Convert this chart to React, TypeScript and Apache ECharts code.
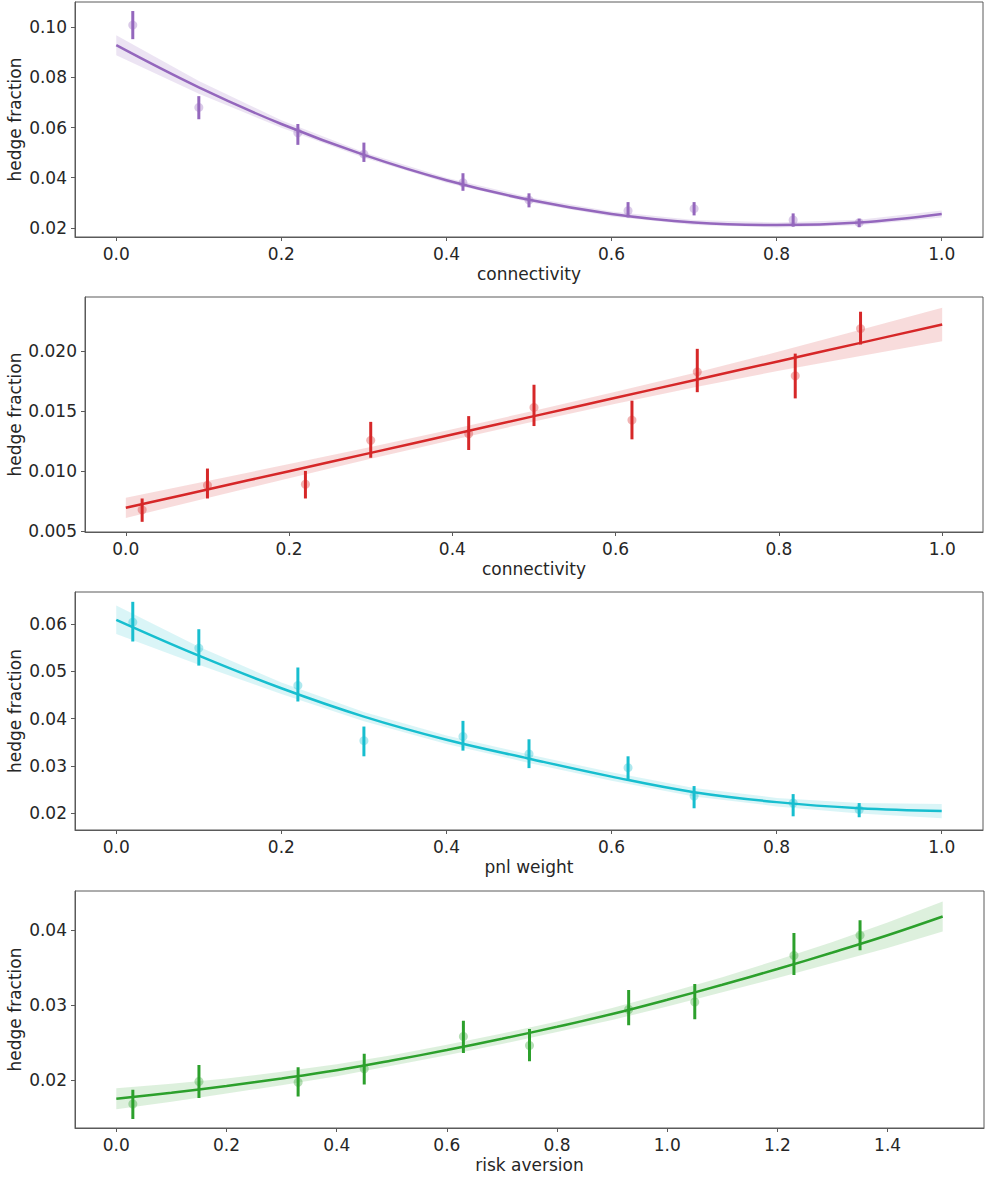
import React, { useEffect, useRef } from "react";
import * as echarts from "echarts";

// ---- data ----
const pointX1 = [0.02, 0.1, 0.22, 0.3, 0.42, 0.5, 0.62, 0.7, 0.82, 0.9];
const mean1 = [0.1008, 0.068, 0.0579, 0.0494, 0.038, 0.0311, 0.0269, 0.0277, 0.0232, 0.0221];
const lo1 = [0.0952, 0.0633, 0.0531, 0.0463, 0.0348, 0.0282, 0.0242, 0.025, 0.0205, 0.0203];
const hi1 = [0.1064, 0.0725, 0.0614, 0.054, 0.0418, 0.0338, 0.0303, 0.0303, 0.0258, 0.0237];
const fitX1 = [0, 0.1, 0.2, 0.3, 0.4, 0.5, 0.6, 0.7, 0.8, 0.9, 1.0];
const fit1 = [0.0928, 0.076, 0.0614, 0.0491, 0.039, 0.0312, 0.0256, 0.0222, 0.0212, 0.0222, 0.0256];
const band1 = [0.004, 0.0025, 0.0015, 0.0011, 0.001, 0.001, 0.001, 0.001, 0.001, 0.0011, 0.0014];

const mean2 = [0.00675, 0.0088, 0.00889, 0.01256, 0.0131, 0.01531, 0.01425, 0.01828, 0.01795, 0.02189];
const lo2 = [0.00575, 0.0077, 0.0077, 0.0111, 0.01175, 0.01375, 0.01264, 0.01658, 0.01606, 0.02056];
const hi2 = [0.0077, 0.0102, 0.01, 0.0141, 0.01458, 0.0172, 0.01587, 0.0202, 0.0198, 0.0233];
const fit2 = [0.00692, 0.00845, 0.00998, 0.01151, 0.01304, 0.01458, 0.01611, 0.01764, 0.01917, 0.0207, 0.02223];
const band2 = [0.00085, 0.0007, 0.0006, 0.0005, 0.00045, 0.00045, 0.0005, 0.0006, 0.0008, 0.0011, 0.0014];

const mean3 = [0.0604, 0.0549, 0.047, 0.0353, 0.0362, 0.0325, 0.0296, 0.0236, 0.0221, 0.0207];
const lo3 = [0.0563, 0.0512, 0.0436, 0.032, 0.0332, 0.0295, 0.0268, 0.021, 0.0193, 0.0191];
const hi3 = [0.0647, 0.0589, 0.0508, 0.0383, 0.0395, 0.0356, 0.032, 0.0257, 0.024, 0.0221];
const fit3 = [0.0609, 0.0533, 0.0464, 0.0404, 0.0355, 0.0315, 0.0277, 0.0244, 0.0223, 0.021, 0.0204];
const band3 = [0.003, 0.0019, 0.0012, 0.001, 0.0009, 0.0009, 0.0009, 0.0009, 0.0009, 0.0011, 0.0015];

const pointX4 = [0.03, 0.15, 0.33, 0.45, 0.63, 0.75, 0.93, 1.05, 1.23, 1.35];
const mean4 = [0.0168, 0.0198, 0.0197, 0.0215, 0.0258, 0.0246, 0.0294, 0.0304, 0.0366, 0.0393];
const lo4 = [0.0148, 0.0176, 0.0178, 0.0194, 0.0236, 0.0225, 0.0273, 0.0281, 0.034, 0.0373];
const hi4 = [0.0187, 0.022, 0.0217, 0.0235, 0.0279, 0.0268, 0.032, 0.0328, 0.0396, 0.0413];
const fitX4 = [0, 0.1, 0.2, 0.3, 0.4, 0.5, 0.6, 0.7, 0.8, 0.9, 1.0, 1.1, 1.2, 1.3, 1.4, 1.5];
const fit4 = [0.0175, 0.0183, 0.0192, 0.0202, 0.0213, 0.0226, 0.024, 0.0255, 0.0271, 0.0288, 0.0307, 0.0327, 0.0348, 0.037, 0.0393, 0.0418];
const band4 = [0.0014, 0.0012, 0.001, 0.0009, 0.0008, 0.0007, 0.0007, 0.0007, 0.0007, 0.0008, 0.0009, 0.001, 0.0012, 0.0014, 0.0017, 0.002];

const xTicks01 = [0, 0.2, 0.4, 0.6, 0.8, 1.0];
const xTicks4 = [0, 0.2, 0.4, 0.6, 0.8, 1.0, 1.2, 1.4];
const yTicks1 = [0.02, 0.04, 0.06, 0.08, 0.1];
const yTicks2 = [0.005, 0.01, 0.015, 0.02];
const yTicks3 = [0.02, 0.03, 0.04, 0.05, 0.06];
const yTicks4 = [0.02, 0.03, 0.04];

const xNames = ["connectivity", "connectivity", "pnl weight", "risk aversion"];
const yName = "hedge fraction";

const FONT = "DejaVu Sans";
const FS = 17;
const TEXT = "#262626";
const SPINE = "#5a5a5a";

export default function App() {
  const ref = useRef<HTMLDivElement>(null);
  useEffect(() => {
    if (!ref.current) return;
    const chart = echarts.init(ref.current, null, { renderer: "svg" });

    const panels = [
      { grid: { left: 75, top: 2, width: 908, height: 235 }, xmin: -0.05, xmax: 1.05, xt: xTicks01, ymin: 0.0164, ymax: 0.11, yt: yTicks1, yd: 2, nameGap: 52, color: "#9467bd", band: "rgba(148,103,189,0.18)", px: pointX1, mean: mean1, lo: lo1, hi: hi1, fx: fitX1, fit: fit1, bw: band1 },
      { grid: { left: 85, top: 297, width: 898, height: 235 }, xmin: -0.05, xmax: 1.05, xt: xTicks01, ymin: 0.0049, ymax: 0.02453, yt: yTicks2, yd: 3, nameGap: 62, color: "#d62728", band: "rgba(214,39,40,0.16)", px: pointX1, mean: mean2, lo: lo2, hi: hi2, fx: fitX1, fit: fit2, bw: band2 },
      { grid: { left: 75, top: 592, width: 908, height: 238 }, xmin: -0.05, xmax: 1.05, xt: xTicks01, ymin: 0.0164, ymax: 0.06678, yt: yTicks3, yd: 2, nameGap: 52, color: "#17becf", band: "rgba(23,190,207,0.16)", px: pointX1, mean: mean3, lo: lo3, hi: hi3, fx: fitX1, fit: fit3, bw: band3 },
      { grid: { left: 75, top: 891, width: 909, height: 237 }, xmin: -0.075, xmax: 1.575, xt: xTicks4, ymin: 0.0136, ymax: 0.0452, yt: yTicks4, yd: 2, nameGap: 52, color: "#2ca02c", band: "rgba(44,160,44,0.16)", px: pointX4, mean: mean4, lo: lo4, hi: hi4, fx: fitX4, fit: fit4, bw: band4 },
    ];

    const grids: any[] = [];
    const xAxes: any[] = [];
    const yAxes: any[] = [];
    const series: any[] = [];

    panels.forEach((p, i) => {
      grids.push({ ...p.grid, containLabel: false, outerBoundsMode: "none", show: true, borderColor: SPINE, borderWidth: 1, backgroundColor: "transparent" });
      xAxes.push({
        type: "value", gridIndex: i, min: p.xmin, max: p.xmax,
        name: xNames[i], nameLocation: "middle", nameGap: 28, nameMoveOverlap: false,
        nameTextStyle: { fontFamily: FONT, fontSize: FS, color: TEXT },
        axisLine: { show: true, onZero: false, lineStyle: { color: SPINE, width: 1 } },
        axisTick: { show: true, length: 4, lineStyle: { color: SPINE }, customValues: p.xt },
        axisLabel: { fontFamily: FONT, fontSize: FS, color: TEXT, margin: 8, customValues: p.xt, formatter: (v: number) => v.toFixed(1) },
        splitLine: { show: false },
      });
      yAxes.push({
        type: "value", gridIndex: i, min: p.ymin, max: p.ymax,
        name: yName, nameLocation: "middle", nameGap: p.nameGap, nameMoveOverlap: false,
        nameTextStyle: { fontFamily: FONT, fontSize: FS, color: TEXT },
        axisLine: { show: true, onZero: false, lineStyle: { color: SPINE, width: 1 } },
        axisTick: { show: true, length: 4, lineStyle: { color: SPINE }, customValues: p.yt },
        axisLabel: { fontFamily: FONT, fontSize: FS, color: TEXT, margin: 8, customValues: p.yt, formatter: (v: number) => v.toFixed(p.yd) },
        splitLine: { show: false },
      });

      // confidence band
      const fx = p.fx, fit = p.fit, bw = p.bw;
      series.push({
        type: "custom", xAxisIndex: i, yAxisIndex: i, silent: true, z: 1,
        data: fx.map((x, k) => [x, fit[k] - bw[k], fit[k] + bw[k]]),
        encode: { x: 0, y: [1, 2] },
        renderItem: (params: any, api: any) => {
          if (params.dataIndex !== 0) return null;
          const upper = fx.map((x, k) => api.coord([x, fit[k] + bw[k]]));
          const lower = fx.map((x, k) => api.coord([x, fit[k] - bw[k]])).reverse();
          return { type: "polygon", shape: { points: upper.concat(lower) }, style: { fill: p.band, stroke: "none" } };
        },
      });
      // regression line
      series.push({
        type: "line", xAxisIndex: i, yAxisIndex: i, z: 3,
        data: fx.map((x, k) => [x, fit[k]]),
        smooth: 0.4, showSymbol: false, symbol: "none",
        lineStyle: { color: p.color, width: 2.5 },
      });
      // error bars
      const lo = p.lo, hi = p.hi;
      series.push({
        type: "custom", xAxisIndex: i, yAxisIndex: i, z: 4,
        data: p.px.map((x, k) => [x, lo[k], hi[k]]),
        encode: { x: 0, y: [1, 2] },
        renderItem: (params: any, api: any) => {
          const a = api.coord([api.value(0), api.value(1)]);
          const b = api.coord([api.value(0), api.value(2)]);
          return { type: "line", shape: { x1: a[0], y1: a[1], x2: b[0], y2: b[1] }, style: { stroke: p.color, lineWidth: 3 } };
        },
      });
      // estimate points
      series.push({
        type: "scatter", xAxisIndex: i, yAxisIndex: i, z: 5,
        data: p.px.map((x, k) => [x, p.mean[k]]),
        symbol: "circle", symbolSize: 9,
        itemStyle: { color: p.color, opacity: 0.35 },
      });
    });

    chart.setOption({
      animation: false,
      backgroundColor: "#ffffff",
      textStyle: { fontFamily: FONT },
      grid: grids,
      xAxis: xAxes,
      yAxis: yAxes,
      series,
    });
    return () => chart.dispose();
  }, []);

  return <div ref={ref} style={{ position: "absolute", left: 0, top: 0, width: 991, height: 1177 }} />;
}
